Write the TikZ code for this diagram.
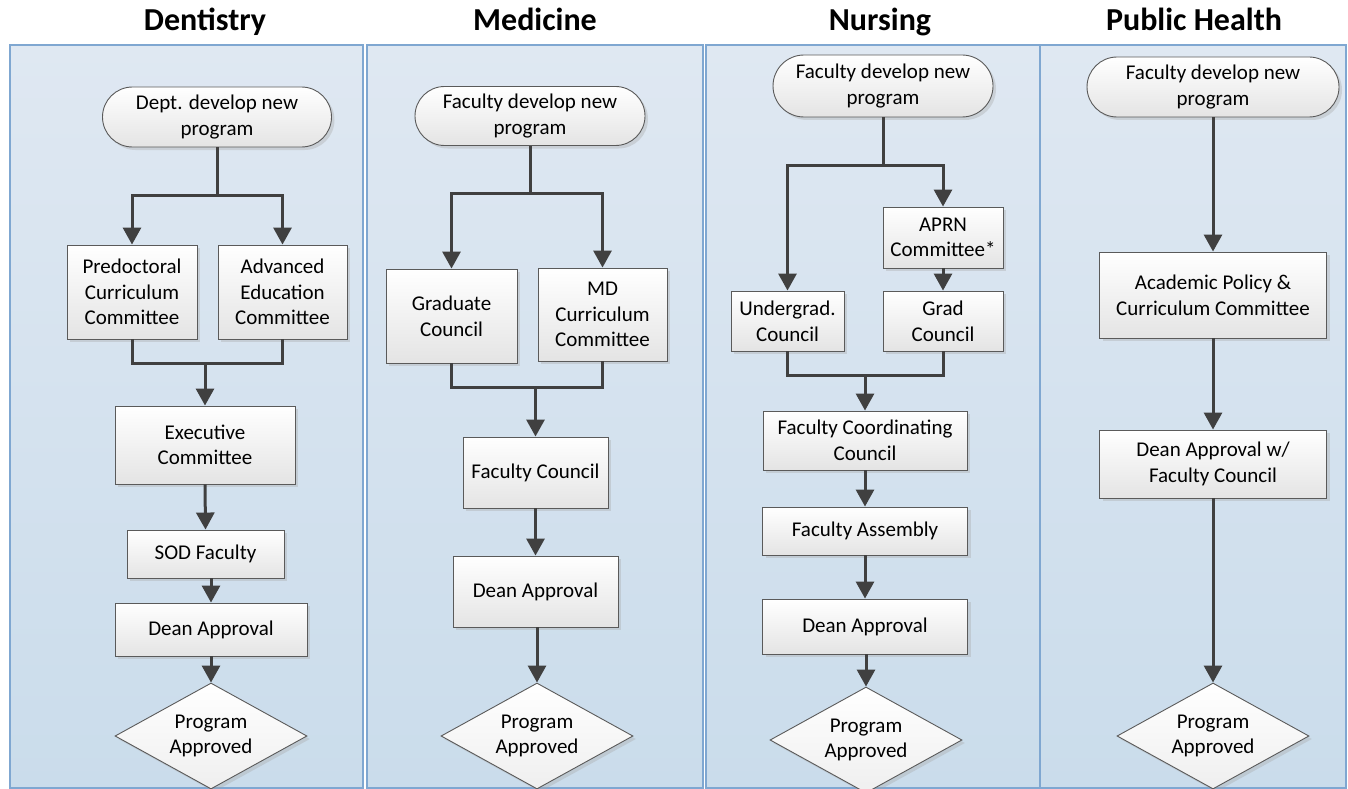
\documentclass[tikz,border=0pt]{standalone}
\usepackage{fontspec}
\setmainfont{Carlito}
\usetikzlibrary{shapes.misc,shapes.geometric,arrows.meta,shadows}
\definecolor{panelTop}{HTML}{DFE8F2}
\definecolor{panelBot}{HTML}{CADCEB}
\definecolor{panelLine}{HTML}{7FA7D1}
\definecolor{boxLine}{HTML}{5A5A5A}
\definecolor{connCol}{HTML}{404040}
\definecolor{boxBot}{HTML}{E4E4E4}
\begin{document}
\begin{tikzpicture}[x=1pt,y=-1pt,
  every node/.style={font=\fontsize{21}{25.6}\selectfont, align=center, inner sep=0pt},
  panel/.style={draw=panelLine, line width=1.5pt, top color=panelTop, bottom color=panelBot},
  title/.style={font=\fontsize{32}{38}\selectfont\bfseries, anchor=base},
  shade/.style={drop shadow={shadow xshift=3pt, shadow yshift=-3pt, fill=black!35, opacity=0.35}},
  box/.style={rectangle, draw=boxLine, line width=0.9pt, top color=white, bottom color=boxBot, shade},
  term/.style={rounded rectangle, draw=boxLine, line width=0.9pt, top color=white, bottom color=boxBot, shade},
  decision/.style={diamond, aspect=1.8, draw=boxLine, line width=0.9pt, top color=white, bottom color=boxBot!60, shade, minimum width=192pt, minimum height=106pt},
  link/.style={draw=connCol, line width=3pt},
  arrow/.style={link, -{Triangle[width=18pt,length=17pt]}}
]
\useasboundingbox (0,0) rectangle (1348,789);

% panels
\draw[panel] (10,45) rectangle (363,788);
\draw[panel] (367,45) rectangle (703,788);
\draw[panel] (706,45) rectangle (1040,788);
\draw[panel] (1040,45) rectangle (1346,788);

% titles
\node[title] (tD) at (205,31) {Dentistry};
\node[title] (tM) at (535,31) {Medicine};
\node[title] (tN) at (880,31) {Nursing};
\node[title] (tP) at (1194,31) {Public Health};

% ---------------- Dentistry
\node[term, minimum width=229pt, minimum height=60pt] (d0) at (217,117) {Dept. develop new\\program};
\node[box, minimum width=130pt, minimum height=94pt] (d1) at (132,292) {Predoctoral\\Curriculum\\Committee};
\node[box, minimum width=129pt, minimum height=94pt] (d2) at (282.5,292) {Advanced\\Education\\Committee};
\node[box, minimum width=180pt, minimum height=78pt] (d3) at (205,445) {Executive\\Committee};
\node[box, minimum width=157pt, minimum height=48pt] (d4) at (205.5,554) {SOD Faculty};
\node[box, minimum width=192pt, minimum height=53pt] (d5) at (211,629.5) {Dean Approval};
\node[decision] (d6) at (211,736) {Program\\Approved};
\coordinate (ds) at (217,195);
\coordinate (dm) at (205,363);
\draw[link] (d0.south) -- (ds);
\draw[arrow] (ds) -| (d1.north);
\draw[arrow] (ds) -| (d2.north);
\draw[link] (d1.south) |- (dm);
\draw[link] (d2.south) |- (dm);
\draw[arrow] (dm) -- (d3.north);
\draw[arrow] (d3.south) -- (d4.north);
\draw[arrow] (d4.south -| d5.north) -- (d5.north);
\draw[arrow] (d5.south) -- (d6.north);

% ---------------- Medicine
\node[term, minimum width=230pt, minimum height=59pt] (m0) at (530,116) {Faculty develop new\\program};
\node[box, minimum width=131pt, minimum height=94pt] (m1) at (451.5,316) {Graduate\\Council};
\node[box, minimum width=129pt, minimum height=93pt] (m2) at (602.5,314.5) {MD\\Curriculum\\Committee};
\node[box, minimum width=145pt, minimum height=71pt] (m3) at (535.5,472.5) {Faculty Council};
\node[box, minimum width=165pt, minimum height=71pt] (m4) at (535.5,591.5) {Dean Approval};
\node[decision] (m5) at (537,736) {Program\\Approved};
\coordinate (ms) at (530,193);
\coordinate (mm) at (535.5,387);
\draw[link] (m0.south) -- (ms);
\draw[arrow] (ms) -| (m1.north);
\draw[arrow] (ms) -| (m2.north);
\draw[link] (m1.south) |- (mm);
\draw[link] (m2.south) |- (mm);
\draw[arrow] (mm) -- (m3.north);
\draw[arrow] (m3.south) -- (m4.north);
\draw[arrow] (m4.south -| m5.north) -- (m5.north);

% ---------------- Nursing
\node[term, minimum width=220pt, minimum height=62pt] (n0) at (883,86) {Faculty develop new\\program};
\node[box, minimum width=120pt, minimum height=61pt] (n2) at (943,237.5) {APRN\\Committee*};
\node[box, minimum width=120pt, minimum height=60pt] (n3) at (943,321) {Grad\\Council};
\node[box, minimum width=113pt, minimum height=60pt] (n1) at (787.5,321) {Undergrad.\\Council};
\node[box, minimum width=204pt, minimum height=59pt] (n4) at (865,440.5) {Faculty Coordinating\\Council};
\node[box, minimum width=205pt, minimum height=48pt] (n5) at (865,531) {Faculty Assembly};
\node[box, minimum width=205pt, minimum height=55pt] (n6) at (865,626.5) {Dean Approval};
\node[decision] (n7) at (866,740) {Program\\Approved};
\coordinate (ns) at (883,165);
\coordinate (nm) at (865,375);
\draw[link] (n0.south) -- (ns);
\draw[arrow] (ns) -| (n1.north);
\draw[arrow] (ns) -| (n2.north);
\draw[arrow] (n2.south) -- (n3.north);
\draw[link] (n1.south) |- (nm);
\draw[link] (n3.south) |- (nm);
\draw[arrow] (nm) -- (n4.north);
\draw[arrow] (n4.south) -- (n5.north);
\draw[arrow] (n5.south) -- (n6.north);
\draw[arrow] (n6.south -| n7.north) -- (n7.north);

% ---------------- Public Health
\node[term, minimum width=252pt, minimum height=60pt] (p0) at (1213,87) {Faculty develop new\\program};
\node[box, minimum width=227pt, minimum height=86pt] (p1) at (1213,295) {Academic Policy \&\\Curriculum Committee};
\node[box, minimum width=227pt, minimum height=68pt] (p2) at (1213,464) {Dean Approval w/\\Faculty Council};
\node[decision] (p3) at (1213,736) {Program\\Approved};
\draw[arrow] (p0.south) -- (p1.north);
\draw[arrow] (p1.south) -- (p2.north);
\draw[arrow] (p2.south) -- (p3.north);
\end{tikzpicture}
\end{document}
